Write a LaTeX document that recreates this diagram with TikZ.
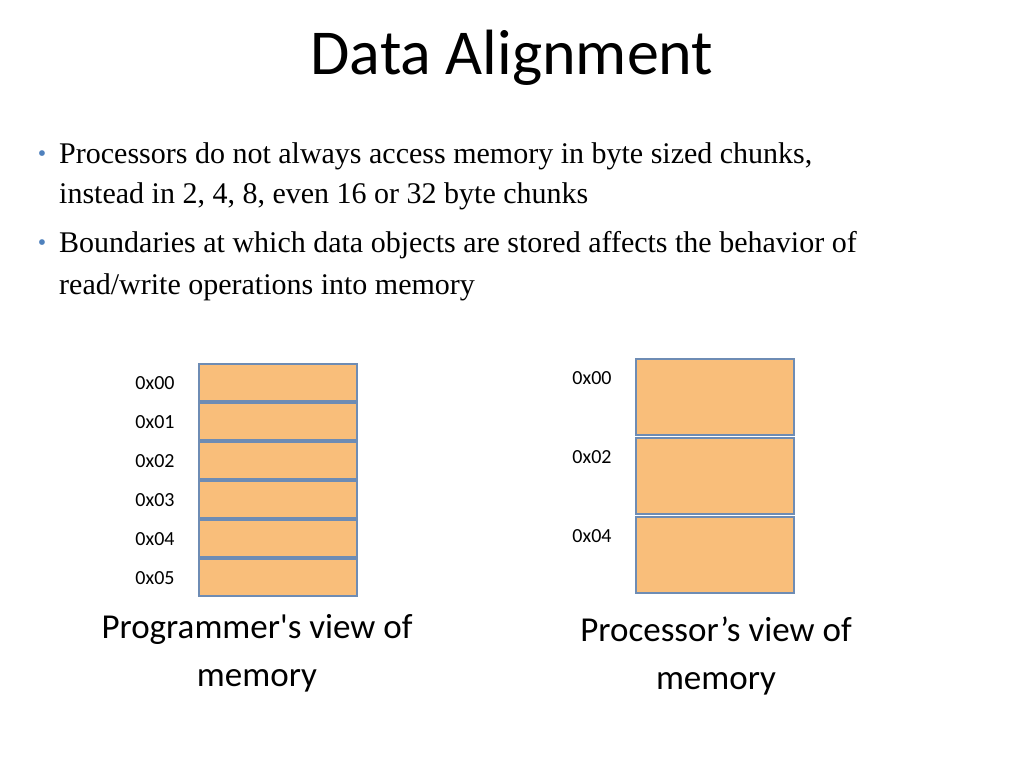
\documentclass[tikz,border=0pt]{standalone}
\usepackage{fontspec}
\setmainfont{Liberation Serif}
\newfontfamily\calib{Carlito}
\definecolor{cellfill}{RGB}{249,190,122}
\definecolor{celldraw}{RGB}{110,140,180}
\definecolor{bulletblue}{RGB}{79,129,189}
\tikzset{
  cell/.style={draw=celldraw, line width=1.5pt, fill=cellfill},
  addr/.style={font=\calib\fontsize{20}{24}\selectfont},
  bullettext/.style={anchor=west, font=\fontsize{30}{36}\selectfont, inner sep=0pt},
  caption/.style={font=\calib\fontsize{35}{48}\selectfont, align=center}
}
\begin{document}
\begin{tikzpicture}[x=1pt,y=-1pt]
  \useasboundingbox (0,0) rectangle (1024,768);
  \node[font=\calib\fontsize{64}{70}\selectfont] (title) at (512,58) {Data Alignment};

  % bullet list
  \node[text=bulletblue, font=\fontsize{24}{24}\selectfont] (b1) at (42,156) {\textbullet};
  \node[bullettext] (t1) at (59,156) {Processors do not always access memory in byte sized chunks,};
  \node[bullettext] (t2) at (59,196) {instead in 2, 4, 8, even 16 or 32 byte chunks};
  \node[text=bulletblue, font=\fontsize{24}{24}\selectfont] (b2) at (42,245) {\textbullet};
  \node[bullettext] (t3) at (59,245) {Boundaries at which data objects are stored affects the behavior of};
  \node[bullettext] (t4) at (59,287) {read/write operations into memory};

  % programmer's view
  \foreach \i/\lab in {0/0x00,1/0x01,2/0x02,3/0x03,4/0x04,5/0x05}{
    \draw[cell] (199,364+39*\i) rectangle (357,401+39*\i);
    \node[addr] (p\i) at (155,383+39*\i) {\lab};
  }
  \node[caption] (pcap) at (257,653) {Programmer's view of\\memory};

  % processor's view
  \foreach \i/\lab in {0/0x00,1/0x02,2/0x04}{
    \draw[cell] (636,359+79*\i) rectangle (794,435+79*\i);
    \node[addr] (q\i) at (592,378+79*\i) {\lab};
  }
  \node[caption] (qcap) at (716,656) {Processor’s view of\\memory};
\end{tikzpicture}
\end{document}
